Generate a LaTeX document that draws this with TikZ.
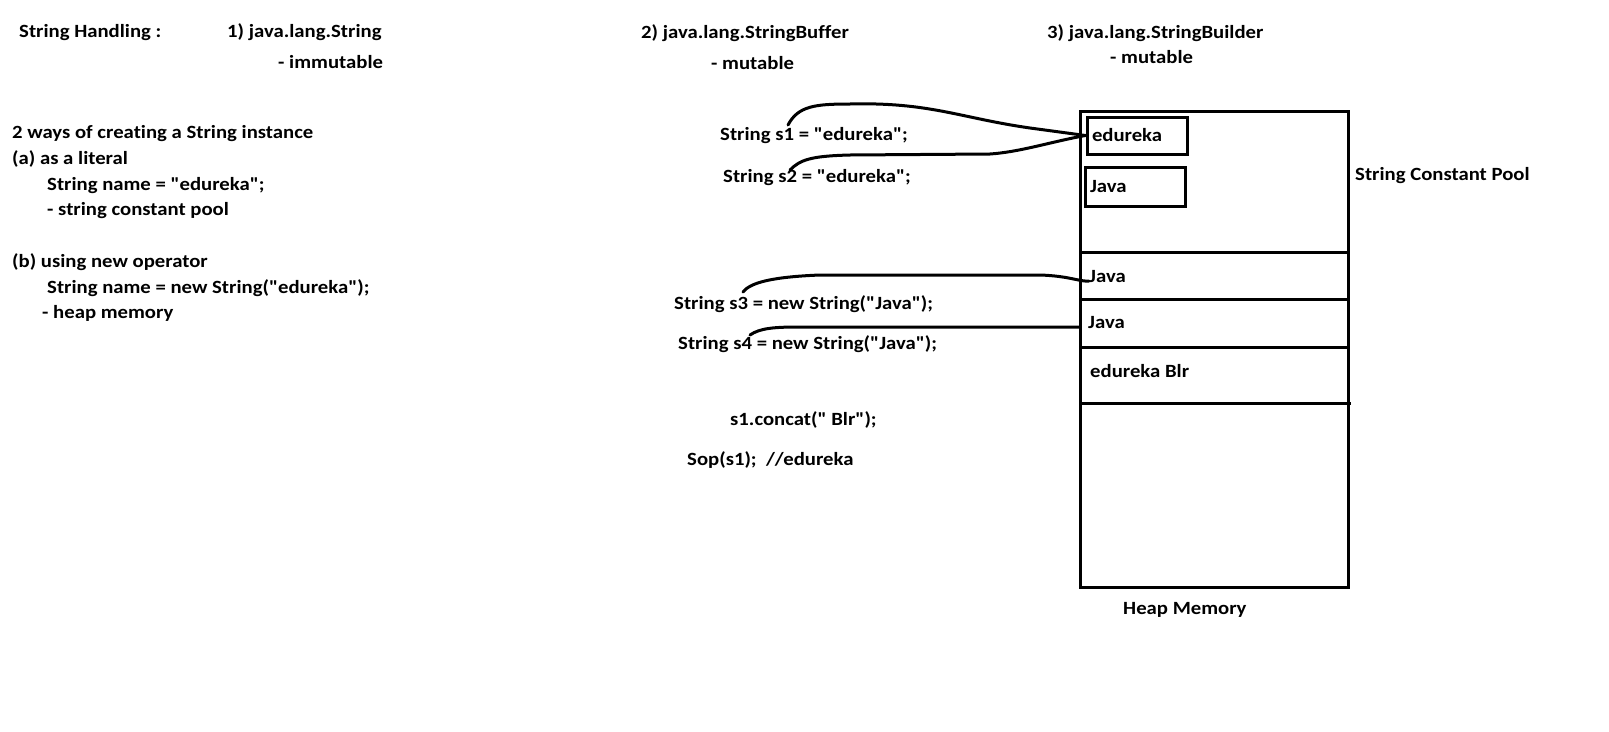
\documentclass[tikz,border=0pt]{standalone}
\usepackage{fontspec}
\setmainfont{Carlito}[Ligatures={TeXOff,CommonOff}, FakeStretch=1.11]
\usepackage{tikz}
\tikzset{
  txt/.style={anchor=base west, inner sep=0pt, font=\bfseries\fontsize{18.67}{22}\selectfont},
  poolbox/.style={draw, line width=3pt, minimum width=100pt, inner sep=0pt, text width=90pt, align=left, font=\bfseries\fontsize{18.67}{22}\selectfont},
  link/.style={line width=3pt, line cap=round, line join=round}
}
\begin{document}
\begin{tikzpicture}[x=1pt,y=-1pt]
  % Canvas
  \fill[white] (0,0) rectangle (1609,731);
  \useasboundingbox (0,0) rectangle (1609,731);

  % Headings
  \node[txt] (title) at (19,37) {String Handling :};
  \node[txt] (cls1) at (227,37) {1) java.lang.String};
  \node[txt] (cls1m) at (278,68) {- immutable};
  \node[txt] (cls2) at (641,38) {2) java.lang.StringBuffer};
  \node[txt] (cls2m) at (711,69) {- mutable};
  \node[txt] (cls3) at (1047,38) {3) java.lang.StringBuilder};
  \node[txt] (cls3m) at (1110,63) {- mutable};

  % Notes on the left
  \node[txt] (ways) at (12,138) {2 ways of creating a String instance};
  \node[txt] (lit) at (12,164) {(a) as a literal};
  \node[txt] (litcode) at (47,190) {String name = "edureka";};
  \node[txt] (litnote) at (47,215) {- string constant pool};
  \node[txt] (newop) at (12,267) {(b) using new operator};
  \node[txt] (newcode) at (47,293) {String name = new String("edureka");};
  \node[txt] (newnote) at (42,318) {- heap memory};

  % Statements
  \node[txt] (s1) at (720,140) {String s1 = "edureka";};
  \node[txt] (s2) at (723,182) {String s2 = "edureka";};
  \node[txt] (s3) at (674,309) {String s3 = new String("Java");};
  \node[txt] (s4) at (678,349) {String s4 = new String("Java");};
  \node[txt] (concat) at (730,425) {s1.concat(" Blr");};
  \node[txt] (sop) at (687,465) {Sop(s1);\ \ //edureka};

  % Draw the heap
  \node[draw, line width=3pt, minimum width=268pt, minimum height=476pt, inner sep=0pt] (heap) at (1214,349) {};
  \foreach \y in {252,299,347} {
    \draw[line width=3pt] (1080,\y) -- (1348,\y);
  }
  \draw[line width=3pt] (1080,403) -- (1351,403);
  \node[txt] (pool) at (1355,180) {String Constant Pool};
  \node[txt] (heapmem) at (1123,614) {Heap Memory};

  % Objects
  \node[poolbox, minimum height=37pt] (poolA) at (1137,135.5) {edureka};
  \node[poolbox, minimum height=39pt] (poolB) at (1135,186.5) {Java};
  \node[txt] (heapA) at (1089,282) {Java};
  \node[txt] (heapB) at (1088,328) {Java};
  \node[txt] (heapC) at (1090,377) {edureka Blr};

  % References
  \coordinate (s1tail) at (788,125);
  \coordinate (s2tail) at (790,170);
  \coordinate (s3tail) at (743,292);
  \coordinate (s4tail) at (750,335);
  \draw[link] (s1tail) .. controls (798,106) and (815,104) .. (850,104)
    .. controls (930,102) and (960,118) .. (1030,128) -- (poolA.west);
  \draw[link] (s2tail) .. controls (800,160) and (810,156) .. (850,155)
    -- (990,154) .. controls (1020,152) and (1050,142) .. (poolA.west);
  \draw[link] (s3tail) .. controls (750,283) and (770,277) .. (820,275)
    -- (1040,275) .. controls (1070,276) and (1080,282) .. ([yshift=1pt]heapA.base west);
  \draw[link] (s4tail) .. controls (760,328) and (775,327) .. (800,327)
    -- ([xshift=-8pt,yshift=1pt]heapB.base west);
\end{tikzpicture}
\end{document}
